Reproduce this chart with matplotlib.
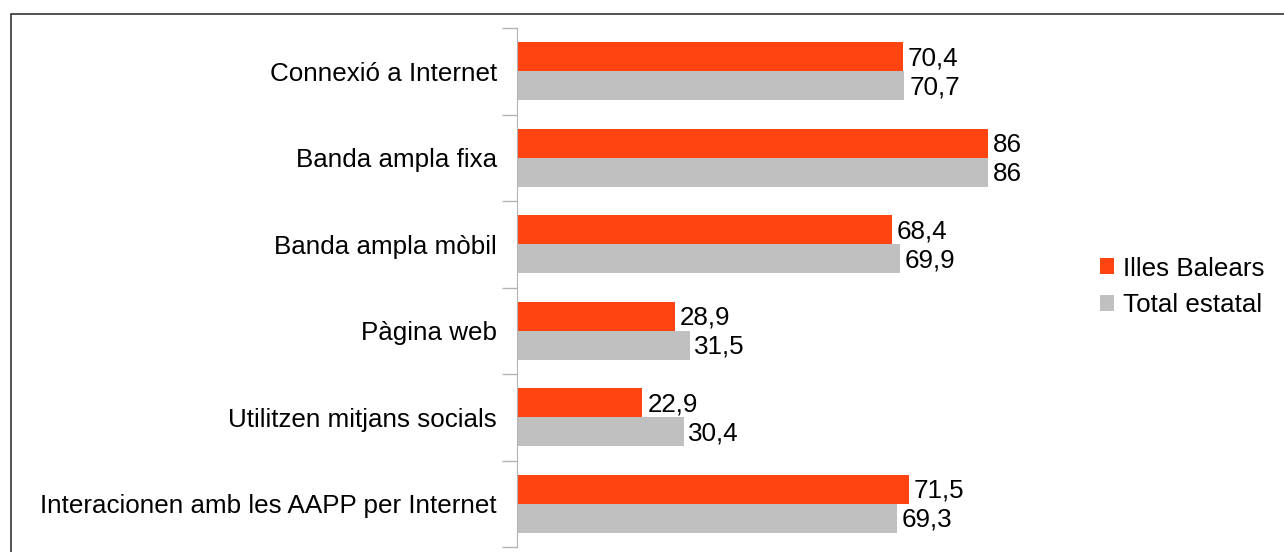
import matplotlib.pyplot as plt
import matplotlib.patches as mpatches
import numpy as np

plt.rcParams['font.family'] = ['Liberation Sans', 'DejaVu Sans']

# Data
categories = ['Connexió a Internet', 'Banda ampla fixa', 'Banda ampla mòbil',
              'Pàgina web', 'Utilitzen mitjans socials',
              'Interacionen amb les AAPP per Internet']
balears = [70.4, 86, 68.4, 28.9, 22.9, 71.5]
estatal = [70.7, 86, 69.9, 31.5, 30.4, 69.3]
series_names = ['Illes Balears', 'Total estatal']

c_bal = '#ff4411'
c_est = '#c0c0c0'
fs = 18.7

fig = plt.figure(figsize=(12.84, 5.52), dpi=100)
ax = fig.add_axes([517 / 1284, 5 / 552, 548 / 1284, 519 / 552])

# outer frame (cut at right/bottom like the original)
fig.patches.append(mpatches.Rectangle((11 / 1284, -0.05), 1.1, (552 - 14) / 552 + 0.05,
                                      transform=fig.transFigure, fill=False,
                                      edgecolor='#333333', linewidth=1.2))

y = np.arange(len(categories))
h = 0.336
b1 = ax.barh(y - h / 2, balears, height=h, color=c_bal, label=series_names[0])
b2 = ax.barh(y + h / 2, estatal, height=h, color=c_est, label=series_names[1])

def fmt(v):
    return ('%g' % v).replace('.', ',')

for bars, vals in ((b1, balears), (b2, estatal)):
    for rect, v in zip(bars, vals):
        ax.annotate(fmt(v), (rect.get_width(), rect.get_y() + rect.get_height() / 2),
                    xytext=(3.5, -1), textcoords='offset points',
                    va='center', ha='left', fontsize=fs)

ax.set_xlim(0, 100)
ax.set_ylim(len(categories) - 0.5, -0.5)

# category separators as ticks
ax.set_yticks(np.arange(len(categories) + 1) - 0.5, minor=False)
ax.set_yticklabels([])
ax.set_yticks(y, minor=True)
ax.set_yticklabels(categories, minor=True, fontsize=fs)
ax.tick_params(axis='y', which='major', length=11, color='#b3b3b3', width=1)
ax.tick_params(axis='y', which='minor', length=0, pad=14.5)
ax.set_xticks([])

for s in ['top', 'right', 'bottom']:
    ax.spines[s].set_visible(False)
ax.spines['left'].set_color('#b3b3b3')

ax.legend(loc='center left', bbox_to_anchor=(1100 / 1284, 265 / 552),
          bbox_transform=fig.transFigure, frameon=False, fontsize=fs,
          handlelength=0.55, handleheight=0.55, handletextpad=0.35,
          labelspacing=0.5, borderpad=0, borderaxespad=0)

fig.savefig('out.png', dpi=100)
